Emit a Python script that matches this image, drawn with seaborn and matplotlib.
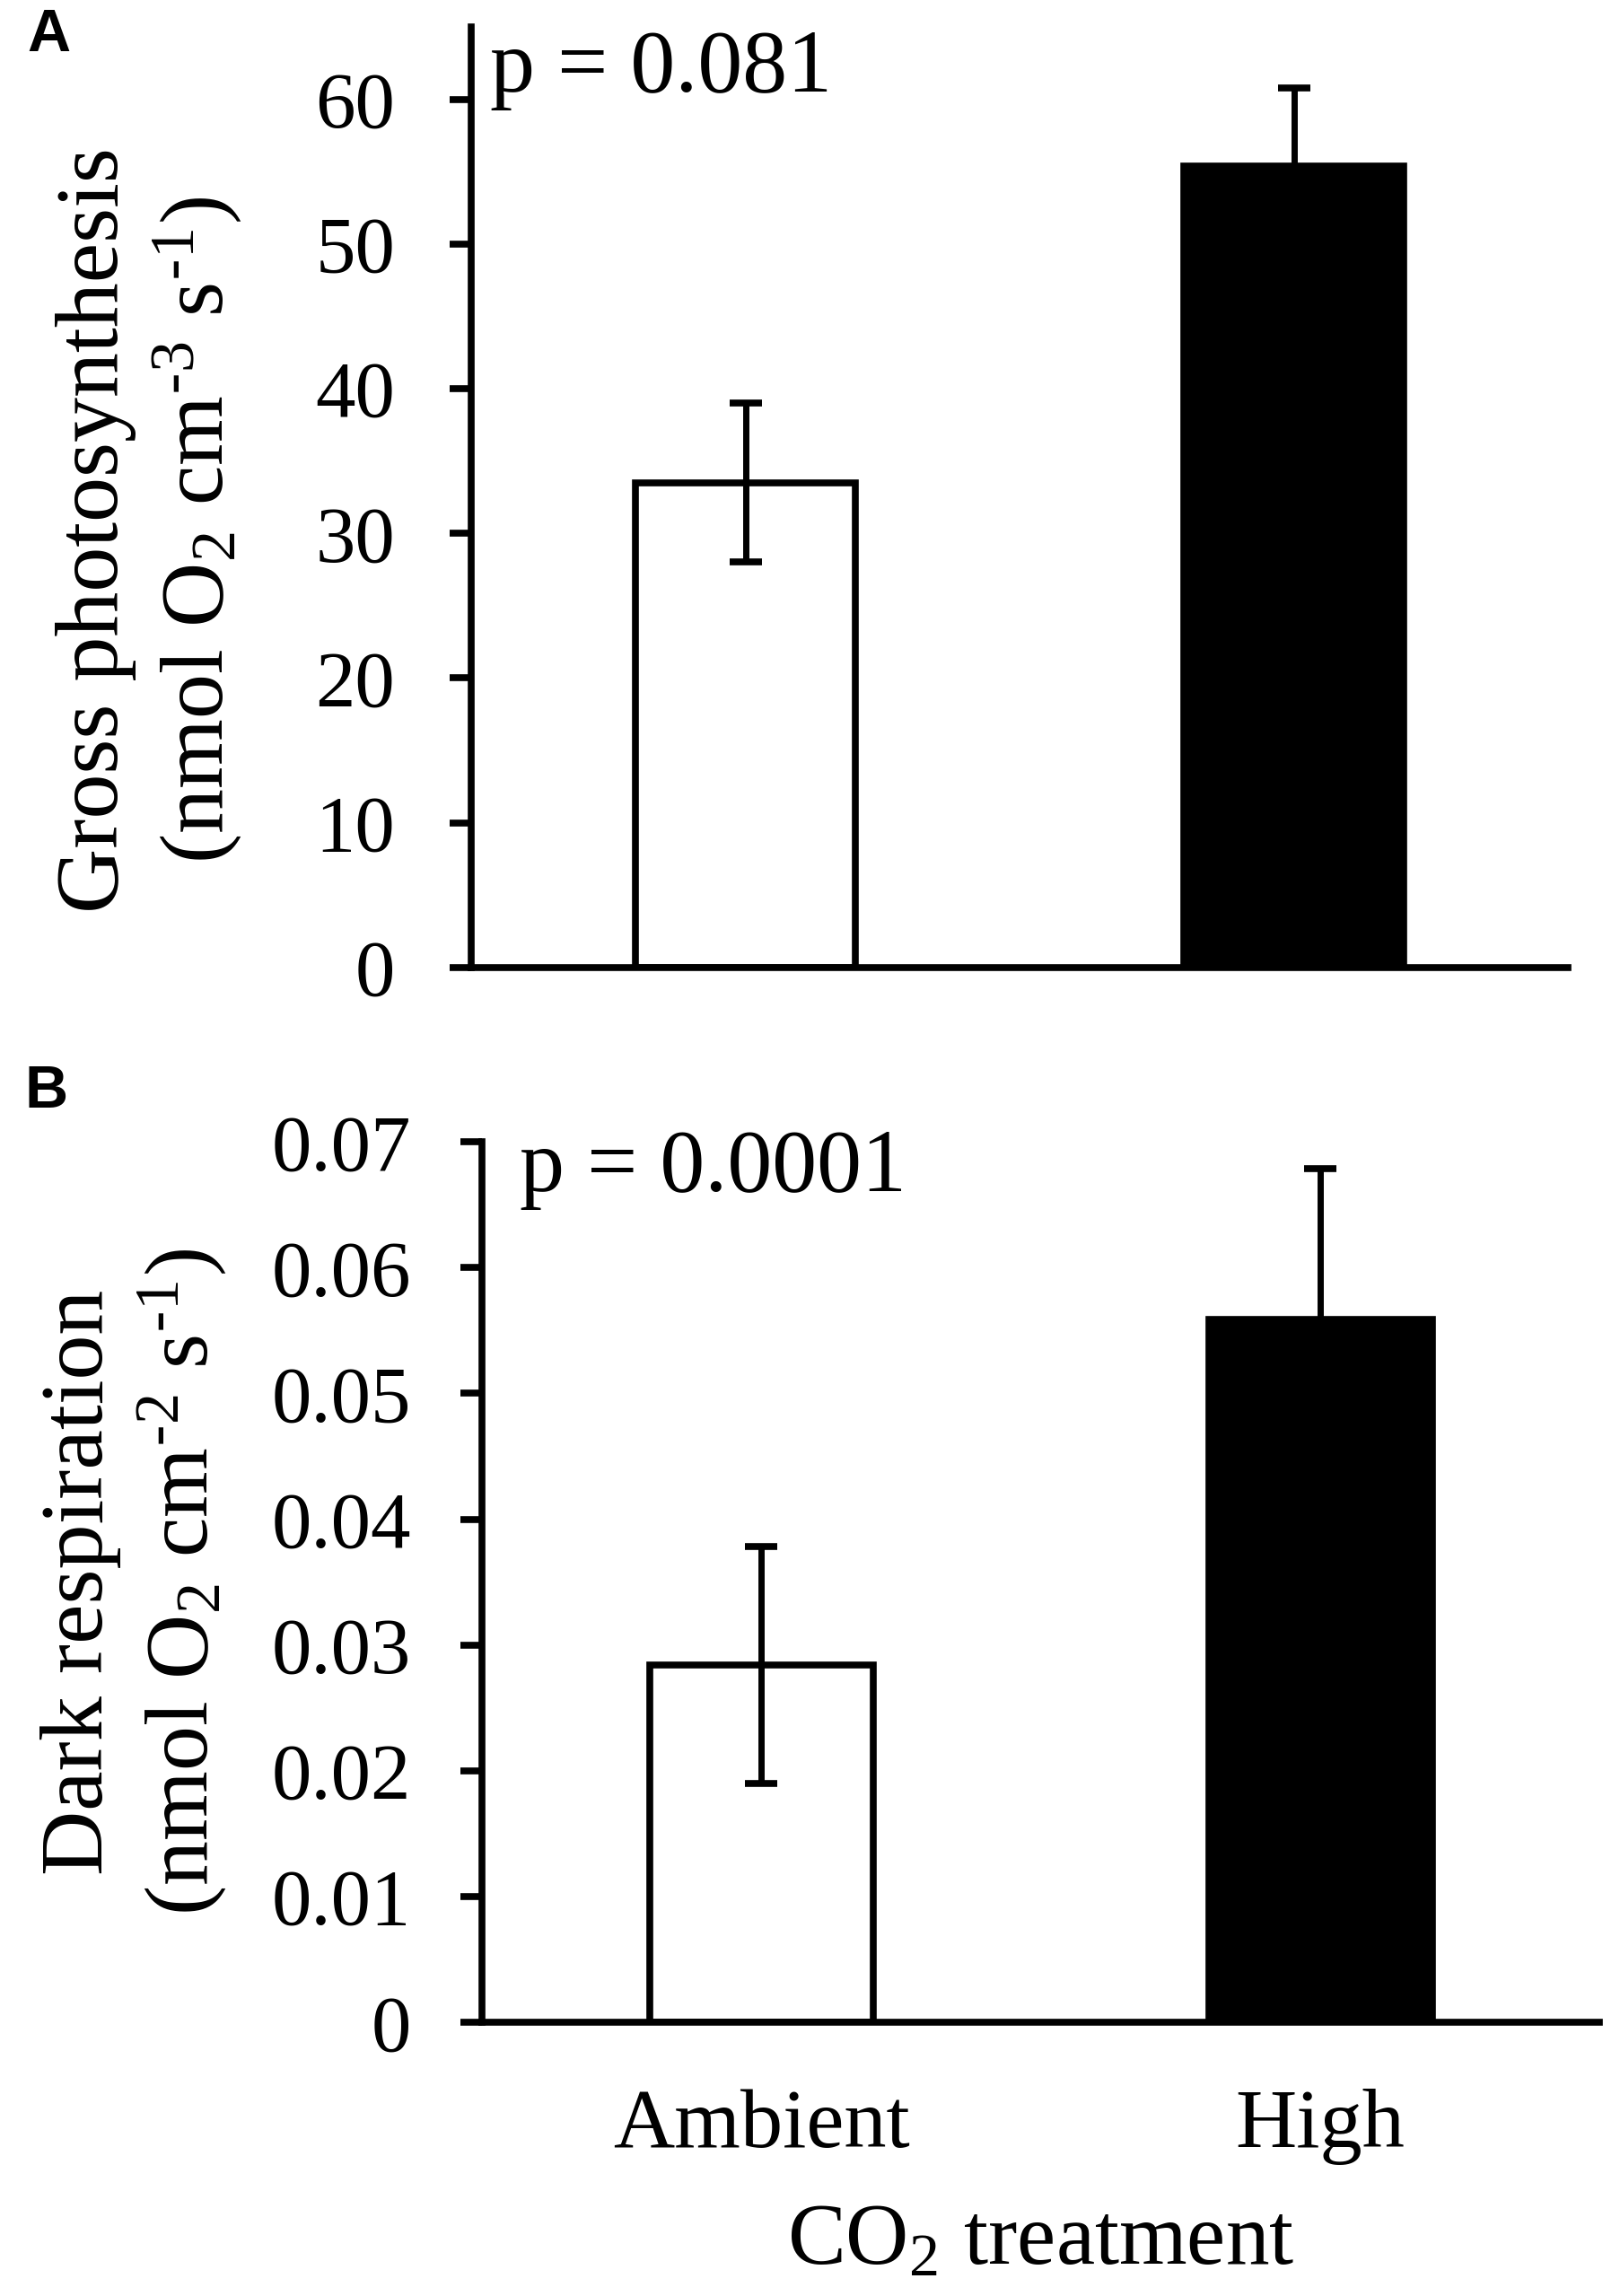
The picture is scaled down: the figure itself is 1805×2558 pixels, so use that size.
import seaborn as sns
import matplotlib
matplotlib.use("Agg")
import matplotlib.pyplot as plt
import pandas as pd

# data
treatments = ["Ambient", "High"]
gross_photo = [33.5, 55.4]
gross_photo_err = [5.5, 5.4]
dark_resp = [0.0284, 0.0559]
dark_resp_err = [0.0094, 0.0120]
p_values = ["p = 0.081", "p = 0.0001"]

sns.set_style("ticks")
plt.rcParams['font.family'] = ['Liberation Serif', 'DejaVu Serif']
plt.rcParams['mathtext.default'] = 'regular'
plt.rcParams['text.color'] = 'black'
plt.rcParams['axes.edgecolor'] = 'black'
plt.rcParams['xtick.color'] = 'black'
plt.rcParams['ytick.color'] = 'black'
plt.rcParams['axes.labelcolor'] = 'black'

fig = plt.figure(figsize=(18.05, 25.58), dpi=100)
axA = fig.add_axes([0.2909, 0.5786, 0.677, 0.4097])
axB = fig.add_axes([0.2975, 0.1192, 0.690, 0.3835])

def draw_panel(ax, vals, errs, ymax, ticks, ticklabels, ptext, ppos, ypad):
    df = pd.DataFrame({"treatment": treatments, "value": vals})
    sns.barplot(data=df, x="treatment", y="value", hue="treatment",
                palette=["white", "black"], edgecolor="black", linewidth=5.5,
                width=0.4, legend=False, ax=ax)
    ax.errorbar(range(len(vals)), vals, yerr=errs, fmt="none", ecolor="black",
                elinewidth=5, capsize=13, capthick=5.5, zorder=5)
    ax.set_ylim(0, ymax)
    ax.set_xlim(-0.5, 1.5)
    ax.set_yticks(ticks)
    ax.set_yticklabels(ticklabels)
    ax.set_xlabel("")
    ax.set_ylabel("")
    for s in ["top", "right"]:
        ax.spines[s].set_visible(False)
    for s in ["left", "bottom"]:
        ax.spines[s].set_linewidth(5.5)
    ax.tick_params(axis="y", direction="out", length=17, width=5.5,
                   labelsize=64, pad=ypad)
    ax.tick_params(axis="x", length=0, labelsize=68, pad=53)
    ax.text(ppos[0], ppos[1], ptext, transform=ax.transAxes,
            fontsize=72, va="baseline", ha="left")

draw_panel(axA, gross_photo, gross_photo_err, 65,
           [0, 10, 20, 30, 40, 50, 60], ["0", "10", "20", "30", "40", "50", "60"],
           p_values[0], (0.017, 0.931), 44)
axA.set_xticklabels([])

draw_panel(axB, dark_resp, dark_resp_err, 0.07,
           [0, 0.01, 0.02, 0.03, 0.04, 0.05, 0.06, 0.07],
           ["0", "0.01", "0.02", "0.03", "0.04", "0.05", "0.06", "0.07"],
           p_values[1], (0.034, 0.944), 40)
axB.set_xlabel("CO$_2$ treatment", fontsize=70, labelpad=31)

fig.text(0.0925, 0.769,
         "Gross photosynthesis\n(nmol O$_2$ cm$^{\\text{-}3}$ s$^{\\text{-}1}$)",
         rotation=90, ha="center", va="center", fontsize=72, linespacing=1.2)
fig.text(0.083, 0.311,
         "Dark respiration\n(nmol O$_2$ cm$^{\\text{-}2}$ s$^{\\text{-}1}$)",
         rotation=90, ha="center", va="center", fontsize=72, linespacing=1.2)

fig.text(0.017, 0.9965, "A", fontsize=48, fontweight="bold",
         family="Liberation Sans", va="top", ha="left")
fig.text(0.015, 0.5365, "B", fontsize=48, fontweight="bold",
         family="Liberation Sans", va="top", ha="left")

fig.savefig("out.png", dpi=100)
